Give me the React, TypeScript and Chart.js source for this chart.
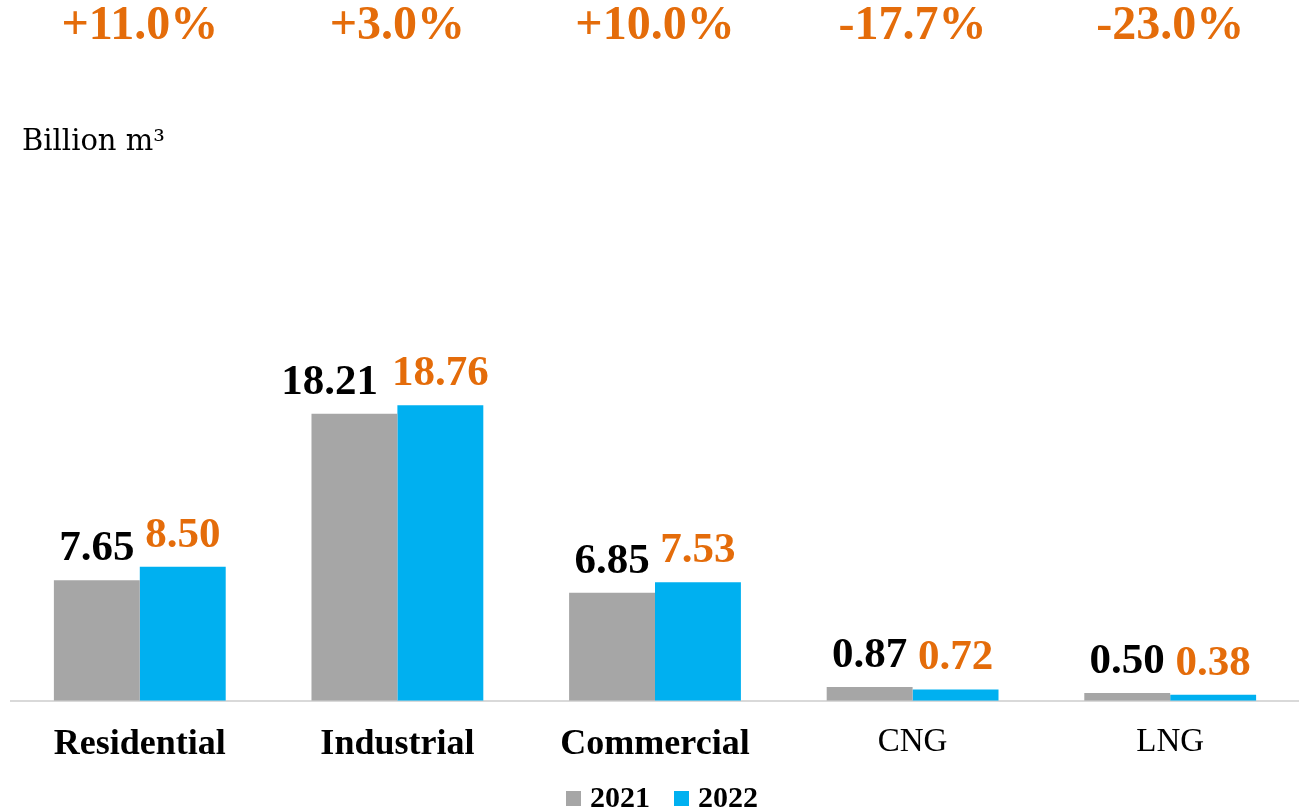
import { useEffect, useRef } from "react";
import { Chart, registerables } from "chart.js";

Chart.register(...registerables);

const categories = ["Residential", "Industrial", "Commercial", "CNG", "LNG"];
const values2021 = [7.65, 18.21, 6.85, 0.87, 0.5];
const values2022 = [8.5, 18.76, 7.53, 0.72, 0.38];
const changeLabels = ["+11.0%", "+3.0%", "+10.0%", "-17.7%", "-23.0%"];
const boldCategories = [true, true, true, false, false];
const seriesNames = ["2021", "2022"];
const unitLabel = "Billion m³";

const GRAY = "#A6A6A6";
const BLUE = "#00B0F0";
const ORANGE = "#E46C0A";
const SERIF = "'Liberation Serif', 'Times New Roman', serif";

const overlayPlugin = {
  id: "overlay",
  afterDatasetsDraw(chart: any) {
    const ctx = chart.ctx as CanvasRenderingContext2D;
    const m0 = chart.getDatasetMeta(0);
    const m1 = chart.getDatasetMeta(1);
    ctx.save();

    // value labels
    ctx.font = `bold 43px ${SERIF}`;
    ctx.textBaseline = "alphabetic";
    ctx.textAlign = "center";
    for (let i = 0; i < categories.length; i++) {
      const b0 = m0.data[i];
      const b1 = m1.data[i];
      const t0 = values2021[i].toFixed(2);
      const t1 = values2022[i].toFixed(2);
      const w0 = ctx.measureText(t0).width;
      const w1 = ctx.measureText(t1).width;
      let x0 = b0.x;
      const left1 = b1.x - w1 / 2;
      if (x0 + w0 / 2 > left1) x0 = left1 - 14 - w0 / 2;
      ctx.fillStyle = "#000000";
      ctx.fillText(t0, x0, b0.y - 20);
      ctx.fillStyle = ORANGE;
      ctx.fillText(t1, b1.x, b1.y - 20);
    }

    // change labels at top
    ctx.font = `bold 48px ${SERIF}`;
    ctx.textBaseline = "middle";
    ctx.fillStyle = ORANGE;
    const xs = chart.scales.x;
    for (let i = 0; i < changeLabels.length; i++) {
      ctx.fillText(changeLabels[i], xs.getPixelForValue(i), 27);
    }

    // unit label
    ctx.font = `29px 'DejaVu Serif', ${SERIF}`;
    ctx.textAlign = "left";
    ctx.fillStyle = "#000000";
    ctx.fillText(unitLabel, 22, 142);

    // legend
    ctx.font = `bold 30px ${SERIF}`;
    ctx.textBaseline = "alphabetic";
    const colors = [GRAY, BLUE];
    const box = 15;
    const gapBoxText = 9;
    const gapItems = 24;
    const widths = seriesNames.map((s) => ctx.measureText(s).width);
    const total =
      widths.reduce((a, b) => a + b, 0) + seriesNames.length * (box + gapBoxText) + gapItems * (seriesNames.length - 1);
    let x = 662 - total / 2;
    const baseline = 807;
    for (let i = 0; i < seriesNames.length; i++) {
      ctx.fillStyle = colors[i];
      ctx.fillRect(x, 791, box, box);
      x += box + gapBoxText;
      ctx.fillStyle = "#000000";
      ctx.fillText(seriesNames[i], x, baseline);
      x += widths[i] + gapItems;
    }

    ctx.restore();
  },
};

export default function App() {
  const ref = useRef<HTMLCanvasElement | null>(null);

  useEffect(() => {
    if (!ref.current) return;
    const chart = new Chart(ref.current, {
      type: "bar",
      data: {
        labels: categories,
        datasets: [
          {
            label: seriesNames[0],
            data: values2021,
            backgroundColor: GRAY,
            borderWidth: 0,
            categoryPercentage: 0.667,
            barPercentage: 1,
          },
          {
            label: seriesNames[1],
            data: values2022,
            backgroundColor: BLUE,
            borderWidth: 0,
            categoryPercentage: 0.667,
            barPercentage: 1,
          },
        ],
      },
      options: {
        animation: false,
        responsive: false,
        maintainAspectRatio: false,
        layout: { padding: { left: 11, right: 0, top: 228, bottom: 20 } },
        plugins: {
          legend: { display: false },
          tooltip: { enabled: false },
          title: { display: false },
        },
        scales: {
          x: {
            grid: { display: false, drawTicks: false },
            border: { display: true, color: "#D9D9D9", width: 2 },
            ticks: {
              color: "#000000",
              padding: 22,
              maxRotation: 0,
              autoSkip: false,
              font: (c: any) => ({
                family: SERIF,
                size: boldCategories[c.index] ? 36 : 33,
                weight: boldCategories[c.index] ? "bold" : "normal",
              }),
            },
          },
          y: {
            display: false,
            min: 0,
            max: 30,
          },
        },
      },
      plugins: [overlayPlugin],
    });
    return () => chart.destroy();
  }, []);

  return (
    <div style={{ position: "fixed", left: 0, top: 0, width: 1299, height: 808, background: "#ffffff" }}>
      <canvas ref={ref} width={1299} height={808} style={{ width: 1299, height: 808, display: "block" }} />
    </div>
  );
}
